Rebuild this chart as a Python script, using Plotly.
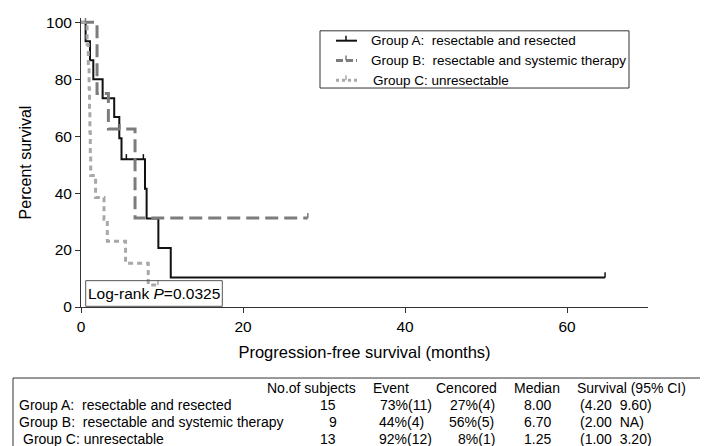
import plotly.graph_objects as go

# ---------------- data ----------------
a_times = [0, 0.57, 1.11, 1.52, 2.67, 4.1, 4.73, 5.0, 7.9, 8.1, 9.55, 11.08]
a_surv = [100, 93.3, 86.7, 80.0, 73.3, 66.7, 59.3, 51.9, 41.5, 31.1, 20.7, 10.4]
a_end = 64.7
a_cens_t = [5.6, 7.7, 64.7]
a_cens_s = [51.9, 51.9, 10.4]

b_times = [0, 1.98, 3.38, 6.67]
b_surv = [100, 75.0, 62.5, 31.25]
b_end = 28.0
b_cens_t = [0.55, 4.8, 28.0]
b_cens_s = [100, 62.5, 31.25]

c_times = [0, 0.75, 0.9, 1.0, 1.05, 1.1, 1.15, 1.2, 1.8, 2.84, 3.25, 5.5, 8.3]
c_surv = [100, 92.3, 84.6, 76.9, 69.2, 61.5, 53.8, 46.2, 38.5, 30.8, 23.1, 15.4, 7.7]
c_end = 9.5
c_cens_t = [9.5]
c_cens_s = [7.7]

group_names = ["Group A:\u00a0\u00a0resectable and resected",
               "Group B:\u00a0\u00a0resectable and systemic therapy",
               "Group C: unresectable"]
table_header = ["No.of subjects", "Event", "Cencored", "Median", "Survival (95% CI)"]
n_subjects = ["15", "9", "13"]
events = ["73%(11)", "44%(4)", "92%(12)"]
censored = ["27%(4)", "56%(5)", "8%(1)"]
medians = ["8.00", "6.70", "1.25"]
ci_text = ["(4.20\u00a0\u00a09.60)", "(2.00\u00a0\u00a0NA)", "(1.00\u00a0\u00a03.20)"]
logrank_p = "0.0325"

x_ticks = [0, 20, 40, 60]
y_ticks = [0, 20, 40, 60, 80, 100]

FONT = "Arial, Liberation Sans, sans-serif"
W, H = 708, 446
L, R, T, B = 73, 68, 6, 147
PW, PH = W - L - R, H - T - B


def px(xp):
    return (xp - L) / PW


def py(yp):
    return (H - B - yp) / PH


def step(times, surv, end):
    xs, ys = [], []
    for i, (t, s) in enumerate(zip(times, surv)):
        if i > 0:
            xs.append(t)
            ys.append(surv[i - 1])
        xs.append(t)
        ys.append(s)
    xs.append(end)
    ys.append(surv[-1])
    return xs, ys


def ticks(ts, ss, h=1.8):
    xs, ys = [], []
    for t, s in zip(ts, ss):
        xs += [t, t, None]
        ys += [s, s + h, None]
    return xs, ys


fig = go.Figure()
styles = [
    dict(color="#111111", width=2, dash="solid"),
    dict(color="#7c7c7c", width=3, dash="13px,6px"),
    dict(color="#a8a8a8", width=3, dash="5px,4px"),
]
groups = [
    (a_times, a_surv, a_end, a_cens_t, a_cens_s),
    (b_times, b_surv, b_end, b_cens_t, b_cens_s),
    (c_times, c_surv, c_end, c_cens_t, c_cens_s),
]
for name, st, (tt, ss, e, ct, cs) in zip(group_names, styles, groups):
    xs, ys = step(tt, ss, e)
    fig.add_trace(go.Scatter(x=xs, y=ys, mode="lines", name=name, line=st,
                             hoverinfo="skip", showlegend=False))
for st, (tt, ss, e, ct, cs) in zip(styles, groups):
    xs, ys = ticks(ct, cs)
    fig.add_trace(go.Scatter(x=xs, y=ys, mode="lines", showlegend=False,
                             line=dict(color=st["color"], width=1.5),
                             hoverinfo="skip"))

fig.update_layout(
    width=W, height=H,
    margin=dict(l=L, r=R, t=T, b=B),
    paper_bgcolor="white", plot_bgcolor="white",
    font=dict(family=FONT, color="black", size=15),
    showlegend=False,
)
fig.update_xaxes(range=[0, 70], tickvals=x_ticks, showline=True, linecolor="#333333",
                 linewidth=1, ticks="outside", ticklen=5, tickcolor="#333333",
                 showgrid=False, zeroline=False, tickfont=dict(size=15.5),
                 title=dict(text="Progression-free survival (months)",
                            font=dict(size=16.5), standoff=12))
fig.update_yaxes(range=[0, 101.5], tickvals=y_ticks, showline=True, linecolor="#333333",
                 linewidth=1, ticks="outside", ticklen=5, tickcolor="#333333",
                 showgrid=False, zeroline=False, tickfont=dict(size=15.5),
                 title=dict(text="Percent survival", font=dict(size=16), standoff=10))

# ---- legend drawn by hand (box, samples, labels) ----
fig.add_shape(type="rect", xref="paper", yref="paper",
              x0=px(312), x1=px(621), y0=py(77), y1=py(19),
              line=dict(color="#333333", width=1), fillcolor="white", layer="above")
leg_y = [29, 49, 69]
leg_dash = ["solid", "7px,3px", "3px,3px"]
for i, (name, st) in enumerate(zip(group_names, styles)):
    yy = py(leg_y[i])
    fig.add_shape(type="line", xref="paper", yref="paper",
                  x0=px(328), x1=px(349), y0=yy, y1=yy,
                  line=dict(color=st["color"], width=st["width"], dash=leg_dash[i]),
                  layer="above")
    fig.add_shape(type="line", xref="paper", yref="paper",
                  x0=px(338), x1=px(338), y0=yy, y1=py(leg_y[i] - 5),
                  line=dict(color=st["color"], width=1.5), layer="above")
    fig.add_annotation(xref="paper", yref="paper", x=px(361 if i < 2 else 363), y=yy,
                       text=name, showarrow=False, xanchor="left", yanchor="middle",
                       font=dict(size=13.5, family=FONT))

# ---- log-rank box ----
fig.add_shape(type="rect", xref="paper", yref="paper",
              x0=px(77.7), x1=px(214.3), y0=py(298.3), y1=py(272.3),
              line=dict(color="#555555", width=1))
fig.add_annotation(xref="paper", yref="paper", x=px(146), y=py(285.5),
                   text="Log-rank <i>P</i>=" + logrank_p, showarrow=False,
                   font=dict(size=15.5, family=FONT), xanchor="center", yanchor="middle")

# ---- summary table ----
fig.add_shape(type="rect", xref="paper", yref="paper",
              x0=px(5), x1=px(703), y0=py(371), y1=py(442),
              line=dict(color="#333333", width=1))
head_y = 381
row_y = [398, 416, 433]
fs = 14
head_x = [303.4, 383, 458.3, 529.4, 623.5]
for hx, txt in zip(head_x, table_header):
    fig.add_annotation(xref="paper", yref="paper", x=px(hx), y=py(head_y), text=txt,
                       showarrow=False, xanchor="center", yanchor="middle",
                       font=dict(size=fs, family=FONT))
label_x = [9, 9, 12.7]
count_x = [320, 325.4, 319.5]
event_x = [397.8, 393, 397.8]
cens_x = [464.7, 463.8, 468]
for i in range(3):
    yy = py(row_y[i])
    cells = [
        (label_x[i], "left", group_names[i]),
        (count_x[i], "center", n_subjects[i]),
        (event_x[i], "center", events[i]),
        (cens_x[i], "center", censored[i]),
        (529, "center", medians[i]),
        (569.5, "left", ci_text[i]),
    ]
    for cx, anc, txt in cells:
        fig.add_annotation(xref="paper", yref="paper", x=px(cx), y=yy, text=txt,
                           showarrow=False, xanchor=anc, yanchor="middle",
                           font=dict(size=fs, family=FONT))

fig.write_html("out.html")
